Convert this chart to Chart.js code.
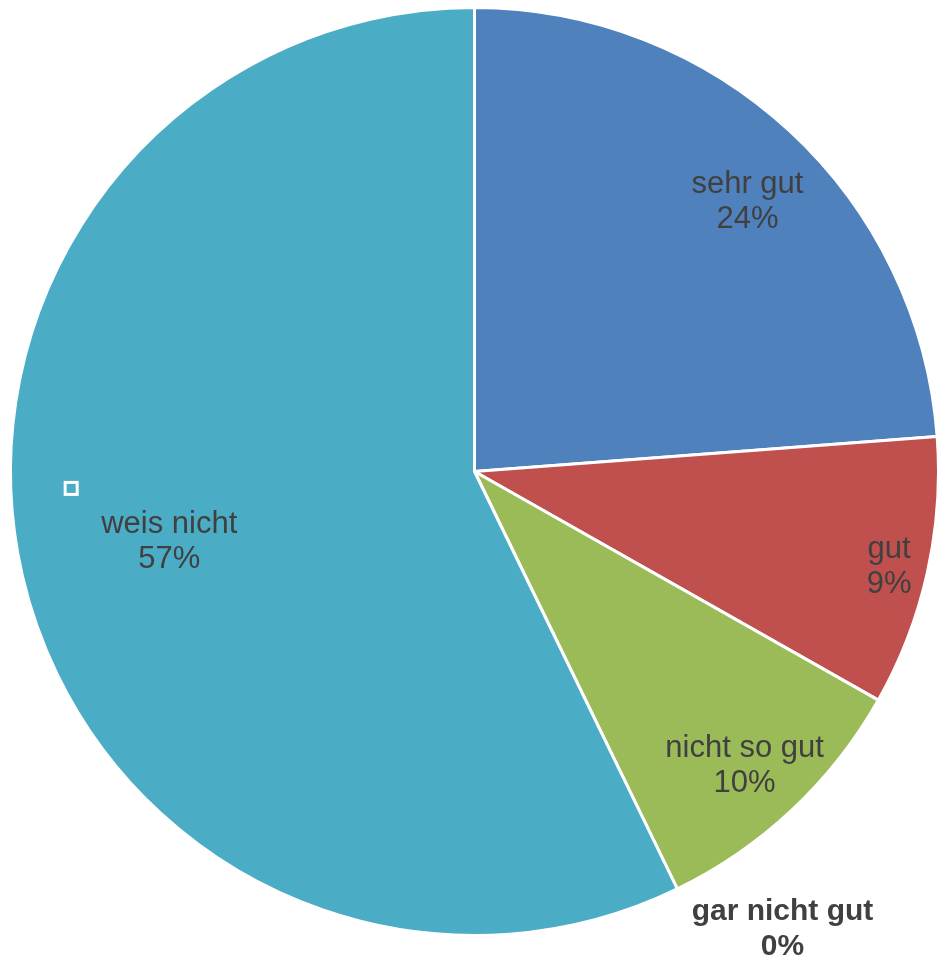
<!DOCTYPE html>
<html>
<head>
<meta charset="utf-8">
<script src="https://cdn.jsdelivr.net/npm/chart.js@4"></script>
<style>
  html, body { margin:0; padding:0; background:#fff; }
  #wrap { width:938px; height:960px; }
</style>
</head>
<body>
<div id="wrap"><canvas id="pie"></canvas></div>
<script>
// ── DATA ─────────────────────────────────────────────
const labels = ['sehr gut', 'gut', 'nicht so gut', 'gar nicht gut', 'weis nicht'];
const values = [23.8, 9.4, 9.6, 0, 57.2];
const colors = ['#4F81BD', '#C0504D', '#9BBB59', '#8064A2', '#4BACC6'];

// label placement: fraction of radius, angle shift (deg), bold
const lblRadius = [0.827, 0.917, 0.86, 1.188, 0.675];
const lblShift  = [2.5, 0.36, 0.6, -8.05, 0];
const lblBold   = [false, false, false, true, false];

const FONT = '"Liberation Sans", Arial, sans-serif';

const labelPlugin = {
  id: 'sliceLabels',
  afterDatasetsDraw(chart) {
    const ctx = chart.ctx;
    const meta = chart.getDatasetMeta(0);
    const total = values.reduce((s, v) => s + v, 0);
    ctx.save();
    ctx.fillStyle = '#404040';
    ctx.textAlign = 'center';
    ctx.textBaseline = 'middle';
    meta.data.forEach((arc, i) => {
      const p = arc.getProps(['x', 'y', 'startAngle', 'endAngle', 'outerRadius'], true);
      const mid = (p.startAngle + p.endAngle) / 2 + lblShift[i] * Math.PI / 180;
      const r = p.outerRadius * lblRadius[i];
      const x = p.x + Math.cos(mid) * r;
      const y = p.y + Math.sin(mid) * r;
      ctx.font = lblBold[i] ? 'bold 30px ' + FONT : '31px ' + FONT;
      ctx.fillText(labels[i], x, y - 17);
      ctx.fillText(Math.round(values[i] / total * 100) + '%', x, y + 18);

      // small hollow marker left in the big slice
      if (i === 4) {
        const a = 267.6 * Math.PI / 180 - Math.PI / 2;
        const mx = p.x + Math.cos(a) * p.outerRadius * 0.87;
        const my = p.y + Math.sin(a) * p.outerRadius * 0.87;
        ctx.strokeStyle = '#fff';
        ctx.lineWidth = 3;
        ctx.strokeRect(mx - 6, my - 6, 12, 12);
      }
    });
    ctx.restore();
  }
};

new Chart(document.getElementById('pie'), {
  type: 'pie',
  data: { labels, datasets: [{ data: values, backgroundColor: colors, borderColor: '#fff', borderWidth: 3 }] },
  options: {
    responsive: true, maintainAspectRatio: false, animation: false,
    radius: 464,
    layout: { padding: { left: 11, right: 0, top: 5, bottom: 22 } },
    plugins: { legend: { display: false }, tooltip: { enabled: false } }
  },
  plugins: [labelPlugin]
});
</script>
</body>
</html>
